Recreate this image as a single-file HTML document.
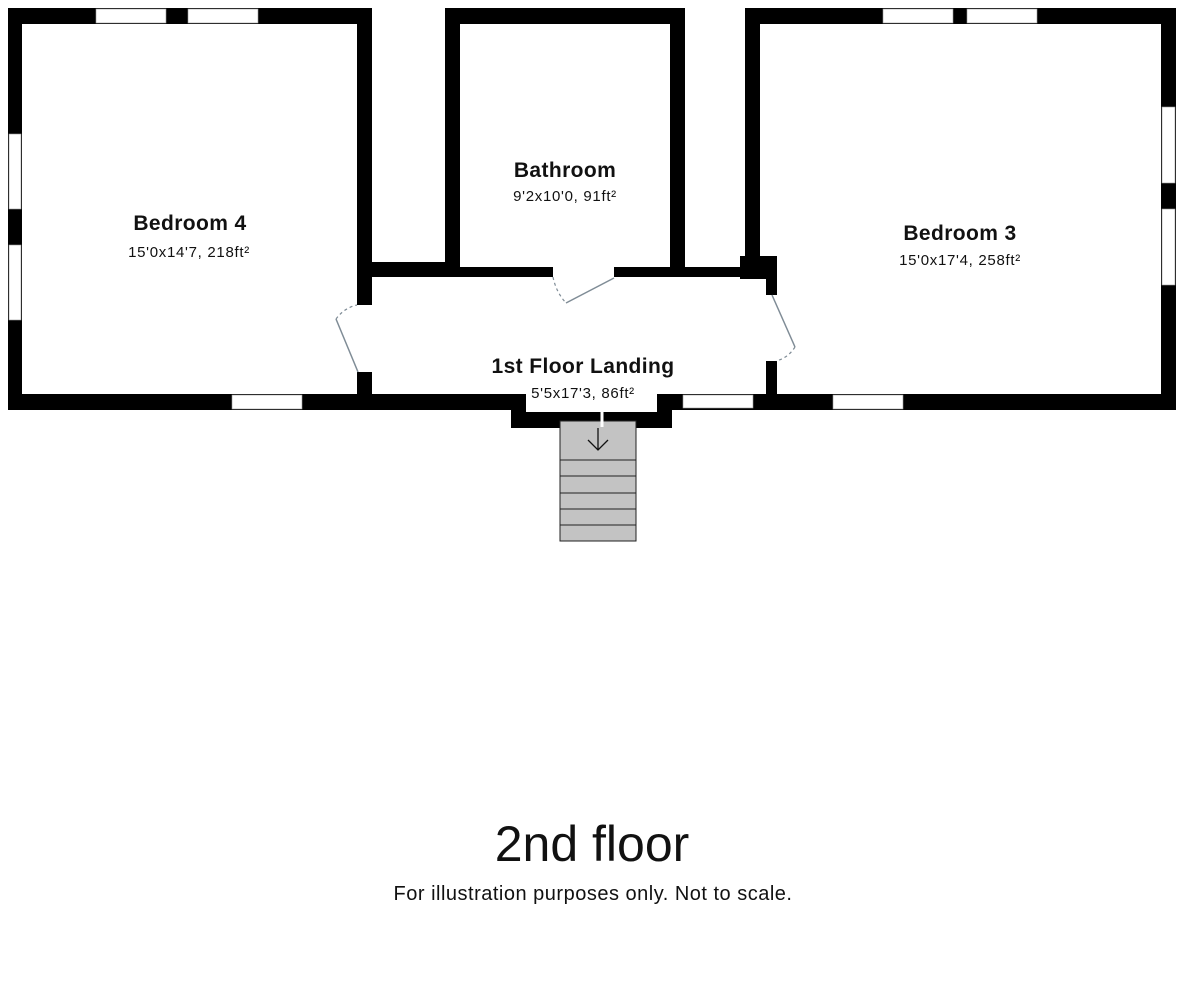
<!DOCTYPE html>
<html><head><meta charset="utf-8"><style>
html,body{margin:0;padding:0;background:#fff;}
body{width:1184px;height:1000px;overflow:hidden;}
</style></head><body>
<svg width="1184" height="1000" viewBox="0 0 1184 1000" xmlns="http://www.w3.org/2000/svg" font-family="Liberation Sans, Arial, sans-serif">
<rect width="1184" height="1000" fill="#fff"/>
<g fill="#000">
<rect x="8" y="8" width="364" height="16"/>
<rect x="8" y="8" width="14" height="402"/>
<rect x="357" y="8" width="15" height="297"/>
<rect x="357" y="372" width="15" height="30"/>
<rect x="8" y="394" width="518" height="16"/>
<rect x="511" y="394" width="15" height="34"/>
<rect x="511" y="412" width="161" height="16"/>
<rect x="657" y="394" width="15" height="34"/>
<rect x="657" y="394" width="519" height="16"/>
<rect x="372" y="262" width="86" height="15"/>
<rect x="445" y="8" width="15" height="269"/>
<rect x="445" y="8" width="240" height="16"/>
<rect x="670" y="8" width="15" height="269"/>
<rect x="445" y="267" width="108" height="10"/>
<rect x="614" y="267" width="146" height="10"/>
<rect x="745" y="8" width="431" height="16"/>
<rect x="745" y="8" width="15" height="270"/>
<rect x="740" y="256" width="37" height="23"/>
<rect x="766" y="279" width="11" height="16"/>
<rect x="766" y="361" width="11" height="40"/>
<rect x="1161" y="8" width="15" height="402"/>
</g>
<g fill="#fff" stroke="#999" stroke-width="0.6">
<rect x="96" y="9" width="70" height="14"/>
<rect x="188" y="9" width="70" height="14"/>
<rect x="9" y="134" width="12" height="75"/>
<rect x="9" y="245" width="12" height="75"/>
<rect x="232" y="395" width="70" height="14"/>
<rect x="883" y="9" width="70" height="14"/>
<rect x="967" y="9" width="70" height="14"/>
<rect x="1162" y="107" width="13" height="76"/>
<rect x="1162" y="209" width="13" height="76"/>
<rect x="833" y="395" width="70" height="14"/>
<rect x="683" y="395" width="70" height="13"/>
</g>
<rect x="526" y="394" width="131" height="18" fill="#fff"/>
<g fill="none" stroke="#7f8c96" stroke-width="1.5">
<line x1="336" y1="319" x2="358" y2="372"/>
<line x1="566" y1="303" x2="614" y2="278"/>
<line x1="772" y1="295" x2="795" y2="347"/>
</g>
<g fill="none" stroke="#7f8c96" stroke-width="1.2" stroke-dasharray="3,3">
<path d="M336 319 Q344 308 357 305"/>
<path d="M553 277 Q556 292 566 303"/>
<path d="M795 347 Q788 358 776 361"/>
</g>
<rect x="560" y="421" width="76" height="120" fill="#c3c3c3" stroke="#222" stroke-width="1"/>
<g stroke="#222" stroke-width="1">
<line x1="560" y1="460" x2="636" y2="460"/>
<line x1="560" y1="476" x2="636" y2="476"/>
<line x1="560" y1="493" x2="636" y2="493"/>
<line x1="560" y1="509" x2="636" y2="509"/>
<line x1="560" y1="525" x2="636" y2="525"/>
</g>
<line x1="602" y1="412" x2="602" y2="427" stroke="#fff" stroke-width="3"/>
<g stroke="#111" stroke-width="1.3" fill="none">
<line x1="598" y1="428" x2="598" y2="450"/>
<path d="M588 440 L598 450 L608 440"/>
</g>
<g text-anchor="middle" fill="#111">
<text x="190" y="230" font-size="21" font-weight="bold" letter-spacing="0.4">Bedroom 4</text>
<text x="189" y="257" font-size="15" letter-spacing="0.7">15'0x14'7, 218ft²</text>
<text x="565" y="177" font-size="21" font-weight="bold" letter-spacing="0.4">Bathroom</text>
<text x="565" y="201" font-size="15" letter-spacing="0.7">9'2x10'0, 91ft²</text>
<text x="960" y="240" font-size="21" font-weight="bold" letter-spacing="0.4">Bedroom 3</text>
<text x="960" y="265" font-size="15" letter-spacing="0.7">15'0x17'4, 258ft²</text>
<text x="583" y="373" font-size="21" font-weight="bold" letter-spacing="0.4">1st Floor Landing</text>
<text x="583" y="398" font-size="15" letter-spacing="0.7">5'5x17'3, 86ft²</text>
<text x="592" y="861" font-size="50">2nd floor</text>
<text x="593" y="900" font-size="20" letter-spacing="0.5">For illustration purposes only. Not to scale.</text>
</g>
</svg>
</body></html>
